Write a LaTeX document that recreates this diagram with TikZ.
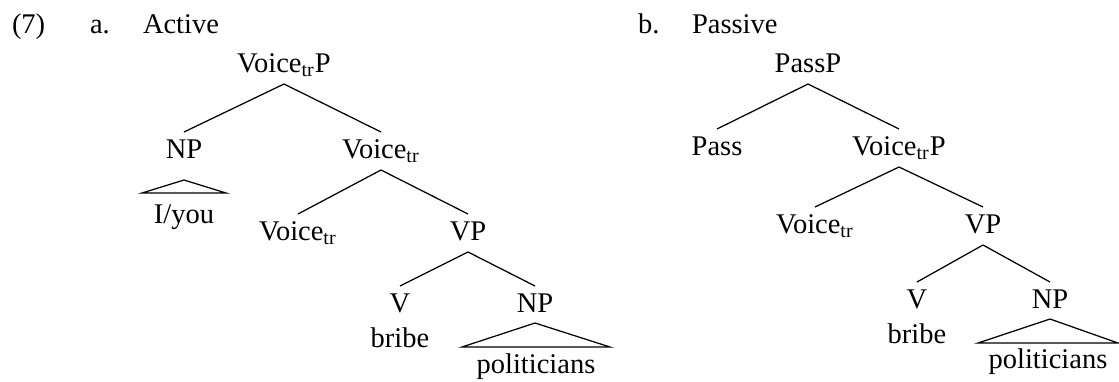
\documentclass[tikz,border=0pt]{standalone}
\usepackage{fontspec}
\setmainfont{Liberation Serif}
\usetikzlibrary{calc}
\begin{document}
\begin{tikzpicture}[x=0.4pt,y=-0.4pt,
  lbl/.style={inner sep=0pt,outer sep=0pt,anchor=base,text height=10.4pt,text depth=4.8pt,font=\fontsize{11.4}{13}\selectfont},
  hdr/.style={inner sep=0pt,outer sep=0pt,anchor=base west,font=\fontsize{11.4}{13}\selectfont},
  edge/.style={draw=black,line width=0.5pt}]
\useasboundingbox (0,0) rectangle (1119,381);
% headers
\node[hdr] (ex) at (12,33) {(7)};
\node[hdr] (la) at (90,33) {a.};
\node[hdr] (act) at (143,33) {Active};
\node[hdr] (lb) at (638,33) {b.};
\node[hdr] (pas) at (692,33) {Passive};
% tree a
\node[lbl] (r1) at (284,72) {Voice\textsubscript{tr}P};
\node[lbl] (np1) at (184,158) {NP};
\node[lbl] (v1) at (381,158) {Voice\textsubscript{tr}};
\node[lbl] (iyou) at (184,223) {I/you};
\node[lbl] (v2) at (298,240) {Voice\textsubscript{tr}};
\node[lbl] (vp1) at (468,240) {VP};
\node[lbl] (vv1) at (400,312) {V};
\node[lbl] (np2) at (535,312) {NP};
\node[lbl] (br1) at (400,347) {bribe};
\node[lbl] (pol1) at (536,373) {politicians};
\draw[edge] (r1.south) -- (np1.north);
\draw[edge] (r1.south) -- (v1.north);
\draw[edge] (v1.south) -- (v2.north);
\draw[edge] (v1.south) -- (vp1.north);
\draw[edge] (vp1.south) -- (vv1.north);
\draw[edge] (vp1.south) -- (np2.north);
\draw[edge] ($(np1.base)+(0,22)$) -- ($(np1.base)+(-42,35)$) -- ($(np1.base)+(42,35)$) -- cycle;
\draw[edge] ($(np2.base)+(0,11)$) -- ($(np2.base)+(-73,35)$) -- ($(np2.base)+(75,35)$) -- cycle;
% tree b
\node[lbl] (r2) at (808,72) {PassP};
\node[lbl] (pass) at (717,155) {Pass};
\node[lbl] (vtp) at (899,155) {Voice\textsubscript{tr}P};
\node[lbl] (v3) at (815,233) {Voice\textsubscript{tr}};
\node[lbl] (vp2) at (983,233) {VP};
\node[lbl] (vv2) at (917,308) {V};
\node[lbl] (np3) at (1050,308) {NP};
\node[lbl] (br2) at (917,343) {bribe};
\node[lbl] (pol2) at (1048,368) {politicians};
\draw[edge] (r2.south) -- (pass.north);
\draw[edge] (r2.south) -- (vtp.north);
\draw[edge] (vtp.south) -- (v3.north);
\draw[edge] (vtp.south) -- (vp2.north);
\draw[edge] (vp2.south) -- (vv2.north);
\draw[edge] (vp2.south) -- (np3.north);
\draw[edge] ($(np3.base)+(0,11)$) -- ($(np3.base)+(-72,35)$) -- ($(np3.base)+(68,35)$) -- cycle;
\end{tikzpicture}
\end{document}
